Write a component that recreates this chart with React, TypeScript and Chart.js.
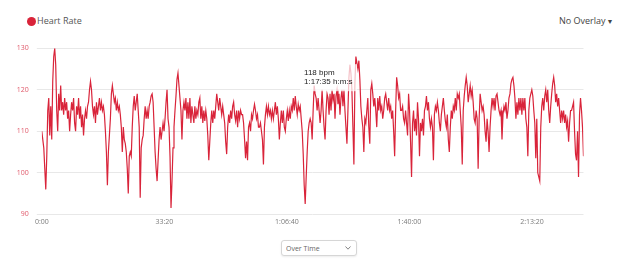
import React, { useEffect, useRef } from "react";
import { Chart, registerables } from "chart.js";

Chart.register(...registerables);

// ---------- data ----------
const SERIES_NAME = "Heart Rate";
const OVERLAY_LABEL = "No Overlay";
const VIEW_OPTIONS = ["Over Time"];
const DURATION_SECONDS = 8840; // total recording length (about 2:27:20)
const X_TICK_VALUES = [0, 2000, 4000, 6000, 8000]; // seconds
const Y_MIN = 90;
const Y_MAX = 130;
const Y_STEP = 10;
const TOOLTIP_TIME_SECONDS = 4655; // 1:17:35
const TOOLTIP_BPM = 118;

const hrPart1 = [110,108,106,101,96,104,115,118,109,116,108,122,128,130,126,115,110,119,115,121,115,117,114,118,115,117,113,115,110,114,117,115,118,112,110,116,114,118,113,116,111,114,109,113,115,113,116,117,120,122,120,116,114,116,112,117,114,116,118,115,117,115,116,114,110,105,97,105,109,113,119,121,119,117,118,115,117,115,116,114,111,105,111,108,107,105,101,95,104,105,104,111,116];
const hrPart2 = [118.5,115,117,119,115,111,94,106,108,109,113,116,113,115,113,116,117,118.5,119,117,111,105,101,98,103,108,111,108,110,112,110,113,117,120,113,111,104,91.5,98,106,111,115,118.5,122.5,124,121,118,115,108,115,117,115,118,113,117,113,118,112,116,114,112,116,113,115,114,117,118,113,116,112,115,112.5,115,113,109,103,107.5,112,115,112,115,113,116,119,117,115,118,116,114,116,114,112];
const hrPart3 = [107.5,104.5,111,114,112,115,113,116,117,114,112.5,115,111,115,113,115,114,114,112,108,103.5,107.5,103,111,112,110,114,113,115,116.5,115,113,114,111,111,112,110,108,102,111,114,116,114,116,114,115,113,115,113,115,117,114,116,113,108,112,115,112,115,111,110,113,115,112.5,115,113,116,115,118,115,118.5,116,114,116.5,115,116,113,110,104.5,97,92.5,99,105,110,112,113,112,108,115,121,119,118,115];
const hrPart4 = [118,115,112,115,120,115,111,108,115,119,118,114,119,115,120,117.5,119,113,118.5,120,116.5,119,114,118,120,116,120,115,111,107,115,123,126,124,120,111,102,121.5,128,126.5,125,127,122.5,116,113,111,105,113,112,115,118,111,107,120,121.5,119,116,118,115,111,118,115,118.5,115,116,113,115,118,119,117,115,118,115,116,113,115,110,104,115,123,121,118,119,115,115,116,113,112,115,112,109,119];
const hrPart5 = [115,107.5,99,112,115,110,113,109,117,113,104,112,110,113,109,115,116,118.5,115,117,113,111,113,111,103,114,116,115,117,115,112,110,114,116,118,115,112.5,111,114,108,105,111,115,113,116,115,118,115,119,118,119,115,111,102,115,118.5,121,123,121,117,119,121,118.5,120,117,113,112,115,113,101,113,119,117,115,116,114,110,107.5,113,110,105,111,115,118,116,118,115,118.5,119,117,115,114];
const hrPart6 = [115,108,114,116,115,117,113,115,118,119,121.5,122.5,123,121,118,113,117,114,118,115,118,114,118,115,118,113,111,104,115,118,119,120,118.5,115,112,103.5,113,100,99,98,111,116,118,115,118.5,120,117,120,115,112,116,119,121.5,123,121,117,119,116,118,115,112,115,113,115,112,114,111,112.5,107.5,112,115,115,116,117,110,104.5,103,110,99,114,118,115,111,104];

const heartRate = [...hrPart1, ...hrPart2, ...hrPart3, ...hrPart4, ...hrPart5, ...hrPart6];

// ---------- styling ----------
const LINE_COLOR = "#d9243a";
const Y_TICK_COLOR = "#e0596a";
const X_TICK_COLOR = "#7a7a7a";
const GRID_COLOR = "#e8e8e8";

function formatSeconds(sec: number): string {
  const total = Math.round(sec);
  const h = Math.floor(total / 3600);
  const m = Math.floor((total % 3600) / 60);
  const s = total % 60;
  const ss = String(s).padStart(2, "0");
  if (h > 0) return `${h}:${String(m).padStart(2, "0")}:${ss}`;
  return `${m}:${ss}`;
}

const fixedTooltip = {
  id: "fixedTooltip",
  afterDatasetsDraw(chart: any) {
    const { ctx, scales } = chart;
    const px = scales.x.getPixelForValue(TOOLTIP_TIME_SECONDS);
    const left = px - 27;
    const top = scales.y.getPixelForValue(Y_MAX) + 16;
    ctx.save();
    ctx.fillStyle = "rgba(255,255,255,0.72)";
    ctx.fillRect(left, top, 57, 27);
    ctx.fillStyle = "#222";
    ctx.font = '8px "Liberation Sans", Arial, sans-serif';
    ctx.textBaseline = "top";
    ctx.textAlign = "left";
    ctx.fillText(`${TOOLTIP_BPM} bpm`, left + 4, top + 5);
    ctx.fillText(`${formatSeconds(TOOLTIP_TIME_SECONDS)} h:m:s`, left + 4, top + 14);
    ctx.restore();
  },
};

export default function App() {
  const canvasRef = useRef<HTMLCanvasElement>(null);

  useEffect(() => {
    const n = heartRate.length;
    const points = heartRate.map((v, i) => ({ x: (i * DURATION_SECONDS) / (n - 1), y: v }));
    const chart = new Chart(canvasRef.current as HTMLCanvasElement, {
      type: "line",
      data: {
        datasets: [
          {
            label: SERIES_NAME,
            data: points,
            borderColor: LINE_COLOR,
            borderWidth: 1.2,
            pointRadius: 0,
            tension: 0,
            fill: false,
          },
        ],
      },
      options: {
        responsive: false,
        animation: false,
        events: [],
        layout: { padding: { left: 0, right: 24.5, top: 8.7, bottom: 0 } },
        plugins: { legend: { display: false }, tooltip: { enabled: false } },
        scales: {
          x: {
            type: "linear",
            min: 0,
            max: DURATION_SECONDS,
            afterFit: (s: any) => {
              s.height = 21.7;
            },
            afterBuildTicks: (s: any) => {
              s.ticks = X_TICK_VALUES.map((v) => ({ value: v }));
            },
            grid: { display: false, drawTicks: false },
            border: { display: false },
            ticks: {
              color: X_TICK_COLOR,
              padding: 3.5,
              maxRotation: 0,
              autoSkip: false,
              font: { family: '"Open Sans", sans-serif', size: 7 },
              callback: (v: any) => formatSeconds(Number(v)),
            },
          },
          y: {
            min: Y_MIN,
            max: Y_MAX,
            afterFit: (s: any) => {
              s.width = 33.8;
            },
            grid: { color: GRID_COLOR, tickLength: 5, lineWidth: 1 },
            border: { display: false },
            ticks: {
              stepSize: Y_STEP,
              color: Y_TICK_COLOR,
              padding: 8,
              font: { family: '"Open Sans", sans-serif', size: 7 },
            },
          },
        },
      },
      plugins: [fixedTooltip],
    });
    return () => chart.destroy();
  }, []);

  return (
    <div style={{ position: "relative", width: 624, height: 263, fontFamily: '"Open Sans", sans-serif' }}>
      <div
        style={{
          position: "absolute",
          left: 18.5,
          top: 8.5,
          width: 9,
          height: 9,
          borderRadius: "50%",
          background: LINE_COLOR,
        }}
      />
      <div style={{ position: "absolute", left: 29, top: 6, fontSize: 9, lineHeight: "14px", color: "#555" }}>
        {SERIES_NAME}
      </div>
      <div style={{ position: "absolute", left: 551, top: 6, fontSize: 9, lineHeight: "14px", color: "#444", whiteSpace: "nowrap" }}>
        {OVERLAY_LABEL}
        <span style={{ fontSize: 7, marginLeft: 1 }}>▼</span>
      </div>
      <canvas
        ref={canvasRef}
        width={600}
        height={200}
        style={{ position: "absolute", left: 0, top: 28, width: 600, height: 200, display: "block" }}
      />
      <div
        style={{
          position: "absolute",
          left: 273,
          top: 232,
          width: 76,
          height: 16,
          boxSizing: "border-box",
          border: "1px solid #d6d6d6",
          borderRadius: 3,
          background: "#fff",
          boxShadow: "0 1px 2px rgba(0,0,0,0.08)",
        }}
      >
        <select
          defaultValue={VIEW_OPTIONS[0]}
          style={{
            appearance: "none",
            WebkitAppearance: "none",
            width: "100%",
            height: "100%",
            border: "none",
            outline: "none",
            background: "transparent",
            fontSize: 7,
            fontFamily: '"Open Sans", sans-serif',
            color: "#666",
            padding: "0 0 0 4px",
            margin: 0,
            display: "block",
          }}
        >
          {VIEW_OPTIONS.map((o) => (
            <option key={o}>{o}</option>
          ))}
        </select>
        <svg
          width={6}
          height={4}
          viewBox="0 0 6 4"
          style={{ position: "absolute", right: 5, top: 5, pointerEvents: "none" }}
        >
          <polyline points="0.5,0.5 3,3.2 5.5,0.5" fill="none" stroke="#777" strokeWidth={0.9} />
        </svg>
      </div>
    </div>
  );
}
